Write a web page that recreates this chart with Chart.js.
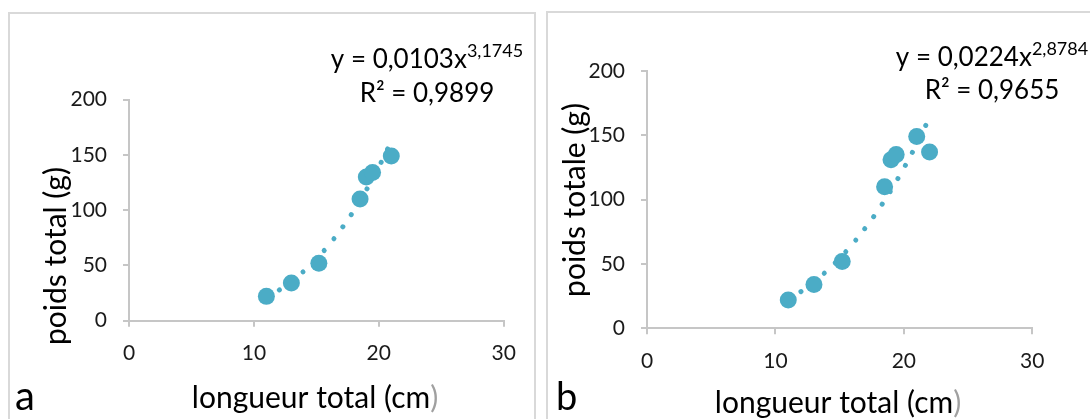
<!DOCTYPE html>
<html><head><meta charset="utf-8">
<script src="https://cdn.jsdelivr.net/npm/chart.js@4.4.0/dist/chart.umd.min.js"></script>
<style>
html,body{margin:0;padding:0;background:#fff;}
#wrap{position:relative;width:1090px;height:419px;overflow:hidden;background:#fff;}
canvas{position:absolute;top:0;}
</style></head><body>
<div id="wrap">
<canvas id="ca" width="545" height="419" style="left:0"></canvas>
<canvas id="cb" width="545" height="419" style="left:545px"></canvas>
</div>
<script>
// ---- data ----
const lengthA = [11, 13, 15.2, 18.5, 19, 19.5, 21];
const weightA = [22, 34, 52, 110, 130, 134, 149];
const lengthB = [11, 13, 15.2, 18.5, 19, 19.4, 21, 22];
const weightB = [22, 34, 52, 110, 131, 135, 149, 137];
const trendXA = [11, 12, 13, 14, 15, 16, 17, 18, 19, 20, 21];
const trendYA = [20.8, 27.5, 35.4, 44.8, 55.8, 68.4, 83.0, 99.5, 118.1, 139.0, 162.3];
const trendXB = [11, 12, 13, 14, 15, 16, 17, 18, 19, 20, 21, 22];
const trendYB = [22.3, 28.6, 36.0, 44.6, 54.4, 65.5, 78.0, 91.9, 107.4, 124.5, 143.3, 163.8];
const xTicks = [0, 10, 20, 30];
const yTicks = [0, 50, 100, 150, 200];
const eqA = ['y = 0,0103x', '3,1745', 'R² = 0,9899'];
const eqB = ['y = 0,0224x', '2,8784', 'R² = 0,9655'];
const yTitleA = 'poids total (g)';
const yTitleB = 'poids totale (g)';
const xTitle = 'longueur total (cm';
const panelLetters = ['a', 'b'];

const BLUE = '#4BACC6';
const AXIS = '#c6c6c6';
const FONT = 'Lato';

function pts(xs, ys){ return xs.map((x,i)=>({x:x, y:ys[i]})); }

function makeChart(id, opt){
  const textPlugin = {
    id: 'deco'+id,
    beforeDraw(chart){
      const ctx = chart.ctx;
      ctx.save();
      ctx.fillStyle = '#fff';
      ctx.fillRect(0,0,chart.width,chart.height);
      ctx.strokeStyle = '#d9d9d9';
      ctx.lineWidth = 2;
      ctx.strokeRect(opt.frame[0], opt.frame[1], opt.frame[2], opt.frame[3]);
      ctx.restore();
    },
    afterDraw(chart){
      const ctx = chart.ctx;
      ctx.save();
      ctx.fillStyle = '#000';
      ctx.textBaseline = 'alphabetic';
      // equation
      ctx.font = '26px ' + FONT;
      const w1 = ctx.measureText(opt.eq[0]).width;
      ctx.font = '18px ' + FONT;
      const w2 = ctx.measureText(opt.eq[1]).width;
      let sx = opt.eqCx - (w1 + w2)/2;
      ctx.font = '26px ' + FONT; ctx.textAlign = 'left';
      ctx.fillText(opt.eq[0], sx, opt.eqY1);
      ctx.font = '18px ' + FONT;
      ctx.fillText(opt.eq[1], sx + w1, opt.eqY1 - 11);
      ctx.font = '26px ' + FONT; ctx.textAlign = 'center';
      ctx.fillText(opt.eq[2], opt.eqCx, opt.eqY2);
      // x title
      ctx.font = '30px ' + FONT;
      const wt = ctx.measureText(xTitle).width;
      const wp = ctx.measureText(')').width;
      let tx = opt.xtCx - (wt + wp)/2;
      ctx.textAlign = 'left';
      ctx.fillText(xTitle, tx, opt.xtY);
      ctx.fillStyle = '#a0a0a0';
      ctx.fillText(')', tx + wt, opt.xtY);
      ctx.fillStyle = '#000';
      // y title
      ctx.save();
      ctx.translate(opt.ytX, opt.ytCy);
      ctx.rotate(-Math.PI/2);
      ctx.textAlign = 'center';
      ctx.font = '30px ' + FONT;
      ctx.fillText(opt.yTitle, 0, 0);
      ctx.restore();
      // panel letter
      ctx.font = opt.letterSize + 'px ' + FONT;
      ctx.textAlign = 'left';
      ctx.fillText(opt.letter, opt.letterX, opt.letterY);
      ctx.restore();
    }
  };
  return new Chart(document.getElementById(id), {
    type: 'scatter',
    data: {
      datasets: [
        {data: pts(opt.xs, opt.ys), backgroundColor: BLUE, borderColor: BLUE, pointRadius: 8.5, pointBorderWidth: 0, pointHoverRadius: 8.5},
        {type: 'line', data: pts(opt.tx, opt.ty), showLine: true, borderColor: BLUE, borderWidth: 5,
         borderDash: [0.01, 15], borderCapStyle: 'round', pointRadius: 0, fill: false, tension: 0.4}
      ]
    },
    options: {
      responsive: false,
      animation: false,
      events: [],
      layout: {padding: {left: 0, top: opt.area.top, right: 545 - opt.area.right, bottom: 0}},
      plugins: {legend: {display: false}, tooltip: {enabled: false}},
      scales: {
        x: {
          type: 'linear', min: 0, max: 30,
          afterBuildTicks(s){ s.ticks = xTicks.map(v=>({value:v})); },
          afterFit(s){ s.height = 419 - opt.area.bottom; },
          grid: {drawOnChartArea: false, drawTicks: true, tickLength: 6, color: AXIS, lineWidth: 2},
          border: {color: AXIS, width: 2},
          ticks: {font: {family: FONT, size: 21}, color: '#1a1a1a', padding: 14, maxRotation: 0}
        },
        y: {
          type: 'linear', min: 0, max: 200,
          afterBuildTicks(s){ s.ticks = yTicks.map(v=>({value:v})); },
          afterFit(s){ s.width = opt.area.left; },
          grid: {drawOnChartArea: false, drawTicks: true, tickLength: 6, color: AXIS, lineWidth: 2},
          border: {color: AXIS, width: 2},
          ticks: {font: {family: FONT, size: 21}, color: '#1a1a1a', padding: 16}
        }
      }
    },
    plugins: [textPlugin]
  });
}

makeChart('ca', {
  xs: lengthA, ys: weightA, tx: trendXA, ty: trendYA,
  area: {left: 129, right: 503.7, top: 99.5, bottom: 320.7},
  frame: [9, 13, 526, 480],
  eq: eqA, eqCx: 427, eqY1: 68, eqY2: 102,
  xtCx: 315, xtY: 408,
  yTitle: yTitleA, ytX: 66, ytCy: 256,
  letter: panelLetters[0], letterX: 15, letterY: 410, letterSize: 40
});
makeChart('cb', {
  xs: lengthB, ys: weightB, tx: trendXB, ty: trendYB,
  area: {left: 102, right: 487.3, top: 71, bottom: 328.3},
  frame: [2, 12, 600, 480],
  eq: eqB, eqCx: 447, eqY1: 66, eqY2: 99,
  xtCx: 293, xtY: 413,
  yTitle: yTitleB, ytX: 40, ytCy: 200,
  letter: panelLetters[1], letterX: 11, letterY: 410, letterSize: 38
});
</script>
</body></html>
